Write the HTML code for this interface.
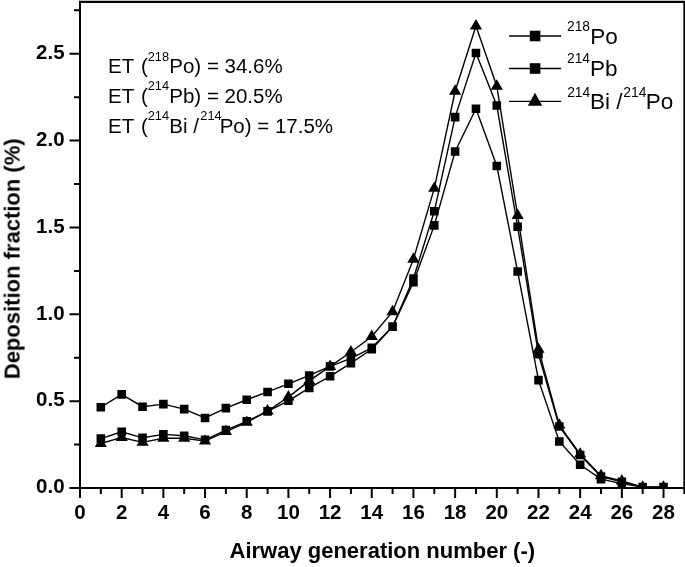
<!DOCTYPE html>
<html><head><meta charset="utf-8"><style>
html,body{margin:0;padding:0;background:#fff;}
svg{display:block;}
text{font-family:"Liberation Sans",sans-serif;fill:#000;}
.tx{opacity:0.999;}
.b{font-weight:bold;font-size:20.5px;}
.t{font-weight:bold;font-size:22px;}
.lm{font-size:22.5px;}
.ls{font-size:13.8px;}
.em{font-size:20.5px;}
.es{font-size:12.8px;}
</style></head><body>
<svg width="685" height="567" viewBox="0 0 685 567">
<rect width="685" height="567" fill="#fff"/>
<g class="tx">
<defs><clipPath id="pc"><rect x="80" y="2" width="604" height="486"/></clipPath></defs>
<path d="M79 0.8H685V2.95H79z M79 1H81V489H79z M79 487H685V489H79z M683.35 1H685V489H683.35z" fill="#000"/>
<path d="M69.5 488H80 M74 444.57H80 M69.5 401.15H80 M74 357.73H80 M69.5 314.3H80 M74 270.88H80 M69.5 227.45H80 M74 184.03H80 M69.5 140.6H80 M74 97.18H80 M69.5 53.75H80 M74 10.33H80 M80 488V498 M100.84 488V494 M121.68 488V498 M142.52 488V494 M163.36 488V498 M184.2 488V494 M205.04 488V498 M225.88 488V494 M246.72 488V498 M267.56 488V494 M288.4 488V498 M309.24 488V494 M330.08 488V498 M350.92 488V494 M371.76 488V498 M392.6 488V494 M413.44 488V498 M434.28 488V494 M455.12 488V498 M475.96 488V494 M496.8 488V498 M517.64 488V494 M538.48 488V498 M559.32 488V494 M580.16 488V498 M601 488V494 M621.84 488V498 M642.68 488V494 M663.52 488V498 M684.36 488V494" stroke="#000" stroke-width="2" fill="none"/>
<text x="64.6" y="493.2" text-anchor="end" class="b">0.0</text>
<text x="64.6" y="406.35" text-anchor="end" class="b">0.5</text>
<text x="64.6" y="319.5" text-anchor="end" class="b">1.0</text>
<text x="64.6" y="232.65" text-anchor="end" class="b">1.5</text>
<text x="64.6" y="145.8" text-anchor="end" class="b">2.0</text>
<text x="64.6" y="58.95" text-anchor="end" class="b">2.5</text>
<text x="80" y="518.6" text-anchor="middle" class="b">0</text>
<text x="121.68" y="518.6" text-anchor="middle" class="b">2</text>
<text x="163.36" y="518.6" text-anchor="middle" class="b">4</text>
<text x="205.04" y="518.6" text-anchor="middle" class="b">6</text>
<text x="246.72" y="518.6" text-anchor="middle" class="b">8</text>
<text x="288.4" y="518.6" text-anchor="middle" class="b">10</text>
<text x="330.08" y="518.6" text-anchor="middle" class="b">12</text>
<text x="371.76" y="518.6" text-anchor="middle" class="b">14</text>
<text x="413.44" y="518.6" text-anchor="middle" class="b">16</text>
<text x="455.12" y="518.6" text-anchor="middle" class="b">18</text>
<text x="496.8" y="518.6" text-anchor="middle" class="b">20</text>
<text x="538.48" y="518.6" text-anchor="middle" class="b">22</text>
<text x="580.16" y="518.6" text-anchor="middle" class="b">24</text>
<text x="621.84" y="518.6" text-anchor="middle" class="b">26</text>
<text x="663.52" y="518.6" text-anchor="middle" class="b">28</text>
<polyline points="100.84,407.23 121.68,394.38 142.52,406.71 163.36,404.1 184.2,409.14 205.04,418 225.88,408.1 246.72,399.76 267.56,391.94 288.4,383.78 309.24,375.44 330.08,366.41 350.92,358.42 371.76,347.82 392.6,326.63 413.44,282.17 434.28,225.37 455.12,151.54 475.96,108.81 496.8,165.96 517.64,271.57 538.48,380.13 559.32,441.45 580.16,464.72 601,479.14 621.84,483.66 642.68,487.13 663.52,487.13" fill="none" stroke="#000" stroke-width="1.4" stroke-linejoin="miter" clip-path="url(#pc)"/>
<polyline points="100.84,438.67 121.68,431.72 142.52,437.8 163.36,434.33 184.2,435.72 205.04,439.89 225.88,430.16 246.72,421.3 267.56,411.4 288.4,400.8 309.24,387.95 330.08,376.31 350.92,363.11 371.76,349.21 392.6,326.63 413.44,278.52 434.28,211.3 455.12,117.15 475.96,53.06 496.8,105.51 517.64,226.76 538.48,354.25 559.32,426.51 580.16,455 601,476.54 621.84,481.92 642.68,487.13 663.52,487.13" fill="none" stroke="#000" stroke-width="1.4" stroke-linejoin="miter" clip-path="url(#pc)"/>
<polyline points="100.84,443.53 121.68,437.45 142.52,442.32 163.36,438.32 184.2,438.32 205.04,441.1 225.88,431.55 246.72,422.34 267.56,411.05 288.4,396.98 309.24,380.83 330.08,366.41 350.92,351.99 371.76,336.53 392.6,311.69 413.44,259.24 434.28,188.37 455.12,91.27 475.96,25.96 496.8,86.23 517.64,215.46 538.48,349.39 559.32,425.12 580.16,454.13 601,475.67 621.84,481.05 642.68,487.13 663.52,487.13" fill="none" stroke="#000" stroke-width="1.4" stroke-linejoin="miter" clip-path="url(#pc)"/>
<path d="M96.54 402.93h8.6v8.6h-8.6zM117.38 390.08h8.6v8.6h-8.6zM138.22 402.41h8.6v8.6h-8.6zM159.06 399.8h8.6v8.6h-8.6zM179.9 404.84h8.6v8.6h-8.6zM200.74 413.7h8.6v8.6h-8.6zM221.58 403.8h8.6v8.6h-8.6zM242.42 395.46h8.6v8.6h-8.6zM263.26 387.64h8.6v8.6h-8.6zM284.1 379.48h8.6v8.6h-8.6zM304.94 371.14h8.6v8.6h-8.6zM325.78 362.11h8.6v8.6h-8.6zM346.62 354.12h8.6v8.6h-8.6zM367.46 343.52h8.6v8.6h-8.6zM388.3 322.33h8.6v8.6h-8.6zM409.14 277.87h8.6v8.6h-8.6zM429.98 221.07h8.6v8.6h-8.6zM450.82 147.24h8.6v8.6h-8.6zM471.66 104.51h8.6v8.6h-8.6zM492.5 161.66h8.6v8.6h-8.6zM513.34 267.27h8.6v8.6h-8.6zM534.18 375.83h8.6v8.6h-8.6zM555.02 437.15h8.6v8.6h-8.6zM575.86 460.42h8.6v8.6h-8.6zM596.7 474.84h8.6v8.6h-8.6zM617.54 479.36h8.6v8.6h-8.6zM638.38 482.83h8.6v8.6h-8.6zM659.22 482.83h8.6v8.6h-8.6zM96.54 434.37h8.6v8.6h-8.6zM117.38 427.42h8.6v8.6h-8.6zM138.22 433.5h8.6v8.6h-8.6zM159.06 430.03h8.6v8.6h-8.6zM179.9 431.42h8.6v8.6h-8.6zM200.74 435.59h8.6v8.6h-8.6zM221.58 425.86h8.6v8.6h-8.6zM242.42 417h8.6v8.6h-8.6zM263.26 407.1h8.6v8.6h-8.6zM284.1 396.5h8.6v8.6h-8.6zM304.94 383.65h8.6v8.6h-8.6zM325.78 372.01h8.6v8.6h-8.6zM346.62 358.81h8.6v8.6h-8.6zM367.46 344.91h8.6v8.6h-8.6zM388.3 322.33h8.6v8.6h-8.6zM409.14 274.22h8.6v8.6h-8.6zM429.98 207h8.6v8.6h-8.6zM450.82 112.85h8.6v8.6h-8.6zM471.66 48.76h8.6v8.6h-8.6zM492.5 101.21h8.6v8.6h-8.6zM513.34 222.46h8.6v8.6h-8.6zM534.18 349.95h8.6v8.6h-8.6zM555.02 422.21h8.6v8.6h-8.6zM575.86 450.7h8.6v8.6h-8.6zM596.7 472.24h8.6v8.6h-8.6zM617.54 477.62h8.6v8.6h-8.6zM638.38 482.83h8.6v8.6h-8.6zM659.22 482.83h8.6v8.6h-8.6zM100.84 436.6L106.94 447L94.74 447zM121.68 430.52L127.78 440.92L115.58 440.92zM142.52 435.38L148.62 445.78L136.42 445.78zM163.36 431.39L169.46 441.79L157.26 441.79zM184.2 431.39L190.3 441.79L178.1 441.79zM205.04 434.17L211.14 444.57L198.94 444.57zM225.88 424.61L231.98 435.01L219.78 435.01zM246.72 415.41L252.82 425.81L240.62 425.81zM267.56 404.12L273.66 414.52L261.46 414.52zM288.4 390.05L294.5 400.45L282.3 400.45zM309.24 373.89L315.34 384.29L303.14 384.29zM330.08 359.48L336.18 369.88L323.98 369.88zM350.92 345.06L357.02 355.46L344.82 355.46zM371.76 329.6L377.86 340L365.66 340zM392.6 304.76L398.7 315.16L386.5 315.16zM413.44 252.3L419.54 262.7L407.34 262.7zM434.28 181.43L440.38 191.83L428.18 191.83zM455.12 84.34L461.22 94.74L449.02 94.74zM475.96 19.02L482.06 29.42L469.86 29.42zM496.8 79.3L502.9 89.7L490.7 89.7zM517.64 208.53L523.74 218.93L511.54 218.93zM538.48 342.45L544.58 352.85L532.38 352.85zM559.32 418.19L565.42 428.59L553.22 428.59zM580.16 447.2L586.26 457.6L574.06 457.6zM601 468.73L607.1 479.13L594.9 479.13zM621.84 474.12L627.94 484.52L615.74 484.52zM642.68 480.2L648.78 490.6L636.58 490.6zM663.52 480.2L669.62 490.6L657.42 490.6z" fill="#000" clip-path="url(#pc)"/>
<path d="M509 36H561.2" stroke="#000" stroke-width="1.3"/>
<path d="M529.8 30.7h10.6v10.6h-10.6z" fill="#000"/>
<path d="M509 68.5H561.2" stroke="#000" stroke-width="1.3"/>
<path d="M529.8 63.2h10.6v10.6h-10.6z" fill="#000"/>
<path d="M509 101.4H561.2" stroke="#000" stroke-width="1.3"/>
<path d="M535 92.8L542.2 105.7L527.8 105.7z" fill="#000"/>
<text x="567" y="30.5" class="ls">218</text>
<text x="590.2" y="43.5" class="lm">Po</text>
<text x="567" y="63.3" class="ls">214</text>
<text x="589.9" y="75.9" class="lm">Pb</text>
<text x="567.2" y="96.6" class="ls">214</text>
<text x="590.1" y="109" class="lm">Bi /</text>
<text x="623.3" y="96.6" class="ls">214</text>
<text x="645.8" y="109" class="lm">Po</text>
<text x="108" y="73.2" class="em">ET</text>
<text x="141" y="73.2" class="em">(</text>
<text x="147.7" y="60.6" class="es">218</text>
<text x="169.3" y="73.2" class="em">Po) = 34.6%</text>
<text x="108" y="102.8" class="em">ET</text>
<text x="141" y="102.8" class="em">(</text>
<text x="147.7" y="90.2" class="es">214</text>
<text x="169.3" y="102.8" class="em">Pb) = 20.5%</text>
<text x="108" y="132.8" class="em">ET</text>
<text x="141" y="132.8" class="em">(</text>
<text x="147.7" y="120.2" class="es">214</text>
<text x="169.3" y="132.8" class="em">Bi /</text>
<text x="200.3" y="120.2" class="es">214</text>
<text x="219.7" y="132.8" class="em">Po) = 17.5%</text>
<text x="229.5" y="558.2" class="t">Airway generation number (-)</text>
<text transform="translate(19.6 379.2) rotate(-90)" class="t">Deposition fraction (%)</text>
</g>
</svg>
</body></html>
